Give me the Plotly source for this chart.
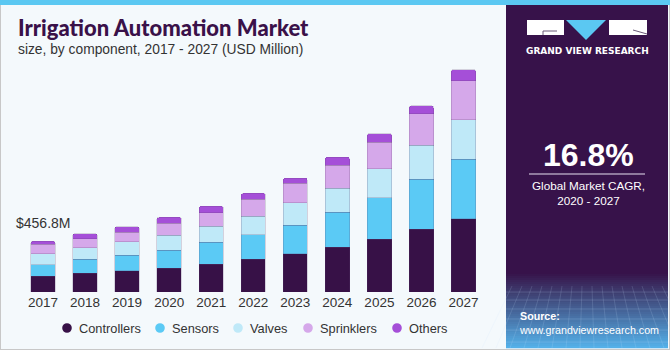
import plotly.graph_objects as go

W, H = 670, 350

years = ["2017", "2018", "2019", "2020", "2021", "2022", "2023", "2024", "2025", "2026", "2027"]
controllers = [144, 171, 192, 216, 249, 297, 345, 405, 474, 567, 660]
sensors = [102, 126, 141, 162, 201, 219, 258, 315, 374, 450, 537]
valves = [99, 102, 120, 135, 144, 168, 201, 216, 261, 306, 357]
sprinklers = [85, 81, 87, 108, 120, 150, 175, 207, 240, 282, 347]
others = [27, 45, 48, 51, 58, 54, 48, 72, 78, 72, 103]

series_names = ["Controllers", "Sensors", "Valves", "Sprinklers", "Others"]
series_values = [controllers, sensors, valves, sprinklers, others]
series_colors = ["#371147", "#5bcaf5", "#bfe9f8", "#d5a8ea", "#a54fd8"]

first_label = "$456.8M"
cagr_value = "16.8%"
cagr_text = "Global Market CAGR,<br>2020 - 2027"

FONT = "Liberation Sans"

# legend layout (pixel positions of the marker centres)
legend_marker_x = [67, 160, 238, 308, 397]
legend_y = 328


def px(x):
    return x / W


def py(y):
    return 1 - y / H


fig = go.Figure()
for name, vals, col in zip(series_names, series_values, series_colors):
    fig.add_trace(go.Bar(
        x=years, y=vals, name=name,
        marker=dict(color=col, line=dict(width=0.6, color="rgba(90,60,110,0.35)")),
        showlegend=False, hoverinfo="skip"))

shapes = []
shapes.append(dict(type="rect", xref="paper", yref="paper", x0=0, x1=1, y0=0, y1=1,
                   line=dict(color="#c8c8c8", width=2), fillcolor="rgba(0,0,0,0)", layer="below"))
shapes.append(dict(type="rect", xref="paper", yref="paper", x0=0, x1=1, y0=py(5), y1=1,
                   line=dict(width=0), fillcolor="#5bc8f2", layer="below"))
shapes.append(dict(type="rect", xref="paper", yref="paper", x0=px(506), x1=px(668), y0=py(348), y1=py(5),
                   line=dict(width=0), fillcolor="#37124a", layer="below"))
top_c = (55, 18, 74)
mid_c = (62, 60, 110)
bot_c = (84, 176, 232)
g0, g1 = 272, 348
n = 38
for i in range(n):
    t = i / (n - 1)
    if t < 0.25:
        u = t / 0.25
        c = [int(top_c[k] + (mid_c[k] - top_c[k]) * u) for k in range(3)]
    else:
        u = (t - 0.25) / 0.75
        c = [int(mid_c[k] + (bot_c[k] - mid_c[k]) * u) for k in range(3)]
    y0 = g0 + (g1 - g0) * i / n
    y1 = g0 + (g1 - g0) * (i + 1) / n
    shapes.append(dict(type="rect", xref="paper", yref="paper", x0=px(506), x1=px(668),
                       y0=py(y1 + 0.3), y1=py(y0), line=dict(width=0),
                       fillcolor="rgb(%d,%d,%d)" % tuple(c), layer="below"))
for yy in [292, 300, 309, 319, 330, 342]:
    shapes.append(dict(type="line", xref="paper", yref="paper", x0=px(506), x1=px(668), y0=py(yy), y1=py(yy),
                       line=dict(color="rgba(200,225,255,0.18)", width=1), layer="below"))
for xx in range(512, 668, 10):
    shapes.append(dict(type="line", xref="paper", yref="paper", x0=px(xx), x1=px(xx + (xx - 587) * 0.4),
                       y0=py(286), y1=py(348),
                       line=dict(color="rgba(200,225,255,0.15)", width=1), layer="below"))
# logo
shapes.append(dict(type="rect", xref="paper", yref="paper", x0=px(527), x1=px(564), y0=py(35), y1=py(20),
                   line=dict(width=0), fillcolor="white"))
shapes.append(dict(type="line", xref="paper", yref="paper", x0=px(543), x1=px(557), y0=py(31), y1=py(31),
                   line=dict(color="#6a5a78", width=1)))
shapes.append(dict(type="line", xref="paper", yref="paper", x0=px(543), x1=px(543), y0=py(31), y1=py(35),
                   line=dict(color="#6a5a78", width=1)))
shapes.append(dict(type="path", xref="paper", yref="paper",
                   path="M %f %f L %f %f L %f %f Z" % (px(566), py(20), px(606), py(20), px(586), py(40)),
                   line=dict(width=0), fillcolor="#5bc8f2"))
shapes.append(dict(type="rect", xref="paper", yref="paper", x0=px(609), x1=px(647), y0=py(35), y1=py(20),
                   line=dict(width=0), fillcolor="white"))
shapes.append(dict(type="line", xref="paper", yref="paper", x0=px(633), x1=px(647), y0=py(30), y1=py(34),
                   line=dict(color="#6a5a78", width=1)))
shapes.append(dict(type="line", xref="paper", yref="paper", x0=px(529), x1=px(645), y0=py(174), y1=py(174),
                   line=dict(color="#e8e0f0", width=1)))

annotations = [
    dict(text="Irrigation Automation Market", x=px(16), y=py(27), xref="paper", yref="paper",
         xanchor="left", yanchor="middle", showarrow=False,
         font=dict(family="Lato", size=22, color="#3a1149", weight=900)),
    dict(text="size, by component, 2017 - 2027 (USD Million)", x=px(16), y=py(50), xref="paper", yref="paper",
         xanchor="left", yanchor="middle", showarrow=False,
         font=dict(family=FONT, size=13.8, color="#333333")),
    dict(text=first_label, x=0, y=sum(v[0] for v in series_values), xref="x", yref="y",
         xanchor="center", yanchor="bottom", yshift=8, showarrow=False,
         font=dict(family=FONT, size=14, color="#333333")),
    dict(text="<b>GRAND VIEW RESEARCH</b>", x=px(587), y=py(51), xref="paper", yref="paper",
         xanchor="center", yanchor="middle", showarrow=False,
         font=dict(family="DejaVu Sans", size=9, color="white")),
    dict(text="<b>" + cagr_value + "</b>", x=px(588), y=py(155), xref="paper", yref="paper",
         xanchor="center", yanchor="middle", showarrow=False,
         font=dict(family=FONT, size=32, color="white")),
    dict(text=cagr_text, x=px(588), y=py(193), xref="paper", yref="paper",
         xanchor="center", yanchor="middle", showarrow=False, align="center",
         font=dict(family=FONT, size=11.7, color="white")),
    dict(text="<b>Source:</b><br>www.grandviewresearch.com", x=px(517), y=py(323), xref="paper", yref="paper",
         xanchor="left", yanchor="middle", showarrow=False, align="left",
         font=dict(family=FONT, size=10.7, color="white")),
]

# custom legend with round markers
for name, col, mx in zip(series_names, series_colors, legend_marker_x):
    r = 4.8
    shapes.append(dict(type="circle", xref="paper", yref="paper",
                       x0=px(mx - r), x1=px(mx + r), y0=py(legend_y + r), y1=py(legend_y - r),
                       line=dict(width=0), fillcolor=col))
    annotations.append(dict(text=name, x=px(mx + 10), y=py(legend_y), xref="paper", yref="paper",
                            xanchor="left", yanchor="middle", showarrow=False,
                            font=dict(family=FONT, size=12.8, color="#333333")))

fig.update_layout(
    width=W, height=H,
    margin=dict(l=0, r=0, t=0, b=0),
    paper_bgcolor="#f4f9fc", plot_bgcolor="rgba(0,0,0,0)",
    barmode="stack", bargap=0.42, barcornerradius=2,
    xaxis=dict(type="category", domain=[px(22), px(484.5)], range=[-0.5, len(years) - 0.5],
               showgrid=False, zeroline=False, showline=False,
               ticks="", tickfont=dict(family=FONT, size=13.5, color="#333333"), fixedrange=True),
    yaxis=dict(domain=[py(292), py(60)], range=[0, 2090], visible=False, fixedrange=True),
    shapes=shapes, annotations=annotations,
    showlegend=False,
)

fig.write_html("out.html")
